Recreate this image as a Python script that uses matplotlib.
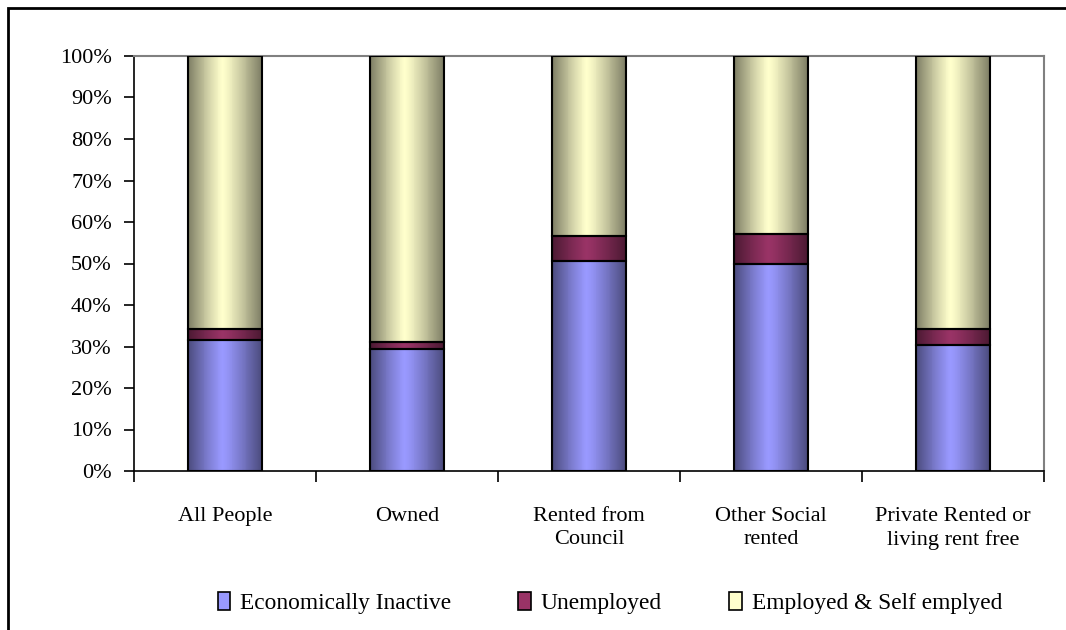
import numpy as np
import matplotlib
matplotlib.use("Agg")
import matplotlib.pyplot as plt
from matplotlib.colors import LinearSegmentedColormap, to_rgb
from matplotlib.patches import Rectangle, Patch
from matplotlib.ticker import FuncFormatter, FixedLocator

plt.rcParams['font.family'] = ['Liberation Serif', 'DejaVu Serif']

categories = ["All People", "Owned", "Rented from\nCouncil", "Other Social\nrented",
              "Private Rented or\nliving rent free"]
inactive = [31.6, 29.5, 50.7, 50.0, 30.3]
unemployed = [2.7, 1.7, 5.9, 7.0, 3.9]
employed = [100 - a - b for a, b in zip(inactive, unemployed)]
series = ["Economically Inactive", "Unemployed", "Employed & Self emplyed"]
colors = ["#9999FF", "#993366", "#FFFFCC"]

fig = plt.figure(figsize=(10.66, 6.30), dpi=100)
ax = fig.add_axes([134 / 1066, 1 - 471 / 630, (1044 - 134) / 1066, (471 - 56) / 630])

# outer chart frame (right and bottom edges run off the canvas)
fig.add_artist(Rectangle((8 / 1066, -0.1), 1.2, 1.1 - 8 / 630,
                         transform=fig.transFigure, fill=False, edgecolor='black',
                         linewidth=2.0, zorder=10))

# horizontal shading profile: dark edges, light band just left of centre
n = 80
t = np.linspace(0, 1, n)
peak = 0.47
d = np.where(t < peak, (peak - t) / peak, (t - peak) / (1 - peak))
profile = 1 - np.clip(d, 0, 1) ** 1.2

x = np.arange(len(categories))
width = 0.41
bottom = np.zeros(len(categories))
for vals, col in zip([inactive, unemployed, employed], colors):
    rgb = np.array(to_rgb(col))
    cmap = LinearSegmentedColormap.from_list('sh', [rgb * 0.48, rgb])
    bars = ax.bar(x, vals, width, bottom=bottom, facecolor='none', edgecolor='black',
                  linewidth=1.5, zorder=3)
    for b in bars:
        x0, y0 = b.get_x(), b.get_y()
        xe = np.linspace(x0, x0 + b.get_width(), n + 1)
        ye = [y0, y0 + b.get_height()]
        ax.pcolormesh(xe, ye, profile[None, :], cmap=cmap, vmin=0, vmax=1,
                      shading='flat', antialiased=False, edgecolors='face',
                      linewidth=0, zorder=2)
    bottom += np.array(vals)

ax.set_xlim(-0.5, len(categories) - 0.5)
ax.set_ylim(0, 100)
ax.set_yticks(np.arange(0, 101, 10))
ax.yaxis.set_major_formatter(FuncFormatter(lambda v, p: f"{v:.0f}%"))
ax.set_xticks(x)
ax.set_xticklabels(categories, fontsize=16, linespacing=1.3)
ax.xaxis.set_minor_locator(FixedLocator(np.arange(-0.5, len(categories), 1.0)))
ax.tick_params(axis='x', which='major', length=0, pad=26)
ax.tick_params(axis='x', which='minor', length=8, width=1.2, direction='out')
ax.tick_params(axis='y', length=7, width=1.2, direction='out', labelsize=16, pad=9)

for side in ['top', 'right']:
    ax.spines[side].set_color('#808080')
    ax.spines[side].set_linewidth(1.5)
for side in ['left', 'bottom']:
    ax.spines[side].set_color('black')
    ax.spines[side].set_linewidth(1.2)

handles = [Patch(facecolor=c, edgecolor='black', linewidth=1.2) for c in colors]
fig.legend(handles, series, loc='center', bbox_to_anchor=(0.572, 1 - 603 / 630), ncol=3,
           frameon=False, fontsize=16.8, handlelength=0.55, handleheight=0.8,
           handletextpad=0.4, columnspacing=2.9)

fig.savefig("out.png", dpi=100)
